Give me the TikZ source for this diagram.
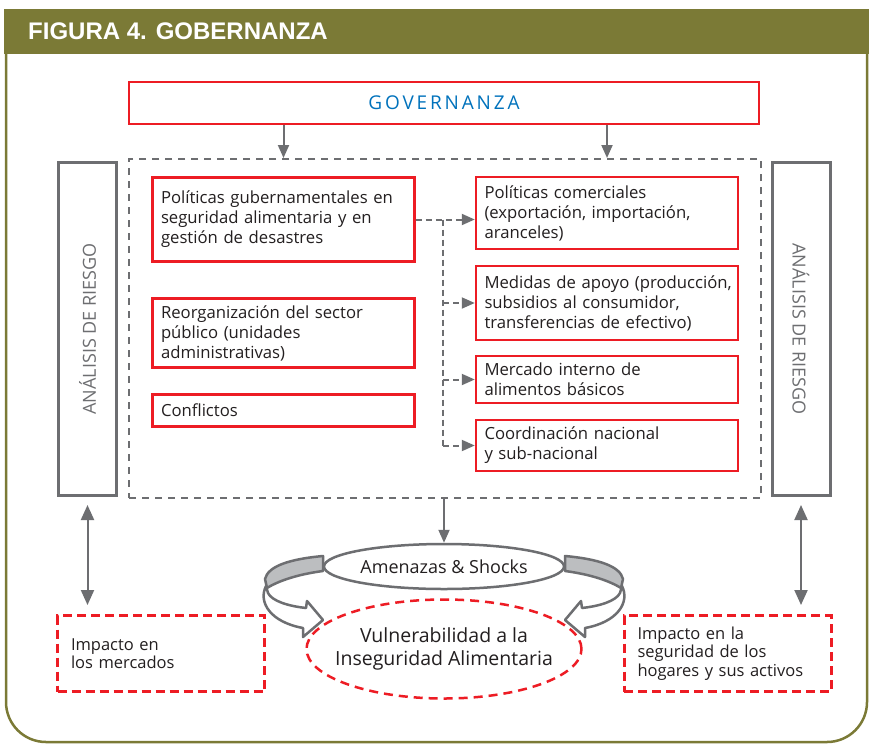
\documentclass[tikz,border=0pt]{standalone}
\usepackage{fontspec}
\setmainfont{Open Sans}
\newfontfamily\titulofont{Liberation Sans}
\usetikzlibrary{shapes.geometric,arrows.meta}
\definecolor{oliva}{RGB}{123,122,54}
\definecolor{rojo}{RGB}{237,28,36}
\definecolor{gris}{RGB}{109,110,113}
\definecolor{grisclaro}{RGB}{188,190,192}
\definecolor{azul}{RGB}{0,114,188}
\definecolor{texto}{RGB}{35,31,32}
\hyphenpenalty=10000
\exhyphenpenalty=10000

\begin{document}
\begin{tikzpicture}[x=1pt,y=-1pt,
	cajaroja/.style={draw=rojo, line width=2.5pt, text width=245pt, align=left, inner xsep=8.5pt, inner ysep=0pt, text=texto, font=\fontsize{16.7}{20}\selectfont},
	cajaimpacto/.style={draw=rojo, line width=3pt, dash pattern=on 9pt off 5pt, text width=180pt, align=left, inner xsep=13.5pt, inner ysep=0pt, minimum height=76pt, text=texto, font=\fontsize{16.5}{18.5}\selectfont},
	cajagris/.style={draw=gris, line width=3pt, minimum width=58pt, minimum height=333pt},
	textogris/.style={text=gris, font=\fontsize{18}{18}\selectfont},
	flecha/.style={draw=gris, line width=2pt, -{Triangle[length=13pt,width=11pt]}},
	doble/.style={draw=gris, line width=2pt, {Triangle[length=15pt,width=13pt]}-{Triangle[length=15pt,width=13pt]}},
	ramal/.style={draw=gris, line width=2pt, dash pattern=on 6pt off 4pt, -{Triangle[length=13pt,width=11pt]}},
	banda/.style={draw=gris, line width=2.5pt, line join=round}]
	% Frame
	\useasboundingbox (0,0) rectangle (869,744);
	\fill[white] (0,0) rectangle (869,744);
	\draw[oliva, line width=2.5pt, rounded corners=40pt] (6,50) -- (6,742) -- (867,742) -- (867,50);
	\fill[oliva] (4,9) rectangle (869,54);
	\node[anchor=base west, inner sep=0pt, text=white, font=\titulofont\bfseries\fontsize{24}{24}\selectfont] (titulo) at (28,39) {FIGURA 4. GOBERNANZA};
	% Governance box and dashed frame
	\node[draw=rojo, line width=2.5pt, minimum width=630pt, minimum height=42pt, text=azul, font=\addfontfeatures{LetterSpace=15}\fontsize{19}{19}\selectfont] (gov) at (444,103) {GOVERNANZA};
	\node[draw=gris, line width=2pt, dash pattern=on 7pt off 6pt, minimum width=632pt, minimum height=339pt] (marco) at (445,328.5) {};
	% Risk analysis boxes
	\node[cajagris] (rl) at (87.5,329) {};
	\node[cajagris] (rr) at (801,329) {};
	\node[textogris, rotate=90] (rltexto) at (rl) {ANÁLISIS DE RIESGO};
	\node[textogris, rotate=-90] (rrtexto) at (rr) {ANÁLISIS DE RIESGO};
	% Left column
	\node[cajaroja, minimum height=84pt] (gub) at (283.5,219.5) {Políticas gubernamentales en\\seguridad alimentaria y en\\gestión de desastres};
	\node[cajaroja, minimum height=69pt] (reorg) at (283.5,333) {Reorganización del sector\\público (unidades\\administrativas)};
	\node[cajaroja, minimum height=32pt] (confl) at (283.5,410.5) {Conflictos};
	% Right column
	\node[cajaroja, minimum height=72pt] (com) at (607,213) {Políticas comerciales\\(exportación, importación,\\aranceles)};
	\node[cajaroja, minimum height=74pt] (apoyo) at (607,303) {\mbox{Medidas de apoyo (producción,}\\subsidios al consumidor,\\transferencias de efectivo)};
	\node[cajaroja, minimum height=47pt] (mercado) at (607,379.5) {Mercado interno de\\alimentos básicos};
	\node[cajaroja, minimum height=51pt] (coord) at (607,445.5) {Coordinación nacional\\y sub-nacional};
	% Dashed connectors
	\coordinate (bus) at (443,220);
	\draw[ramal] (gub.east) -- (com.west |- gub.east);
	\draw[draw=gris, line width=2pt, dash pattern=on 6pt off 4pt] (gub.east -| bus) -- (bus |- coord.west);
	\foreach \n in {apoyo,mercado,coord}
		\draw[ramal] (bus |- \n.west) -- (\n.west);
	% Curved arrows
	\foreach \lado/\desp in {1/0,-1/888}{
		\begin{scope}[xshift=\desp pt, xscale=\lado]
			\draw[banda, fill=grisclaro] (323,556) .. controls (290,559) and (268,566) .. (265,579) -- (267,588) .. controls (280,580) and (300,574) .. (323,571) -- cycle;
			\draw[banda, fill=white] (266,586) .. controls (258,602) and (270,622) .. (303,628) -- (303,637) -- (323,620) -- (307,601) -- (306,608) .. controls (288,606) and (272,601) .. (268,593) -- cycle;
		\end{scope}}
	% Ellipses
	\node[ellipse, draw=gris, line width=2.5pt, fill=white, minimum width=240pt, minimum height=45pt, inner xsep=-20pt, inner ysep=-5pt, text=texto, font=\fontsize{18}{18}\selectfont] (amen) at (444,566.5) {Amenazas \& Shocks};
	\node[ellipse, draw=rojo, line width=2.5pt, dash pattern=on 9pt off 6pt, minimum width=275pt, minimum height=99pt, inner xsep=-40pt, inner ysep=-10pt, align=center, text=texto, font=\fontsize{19.5}{23}\selectfont] (vuln) at (444,649) {Vulnerabilidad a la\\Inseguridad Alimentaria};
	% Impact boxes
	\node[cajaimpacto] (impL) at (161,653.5) {Impacto en\\los mercados};
	\node[cajaimpacto] (impR) at (727.5,653.5) {Impacto en la\\seguridad de los\\hogares y sus activos};
	% Arrows
	\draw[flecha] (gov.south -| gub.north) -- (marco.north -| gub.north);
	\draw[flecha] (gov.south -| com.north) -- (marco.north -| com.north);
	\draw[flecha] (marco.south -| amen.north) -- (amen.north);
	\draw[doble, shorten <=8pt, shorten >=9pt] (rl.south) -- (rl.south |- impL.north);
	\draw[doble, shorten <=8pt, shorten >=9pt] (rr.south) -- (rr.south |- impR.north);
\end{tikzpicture}
\end{document}
